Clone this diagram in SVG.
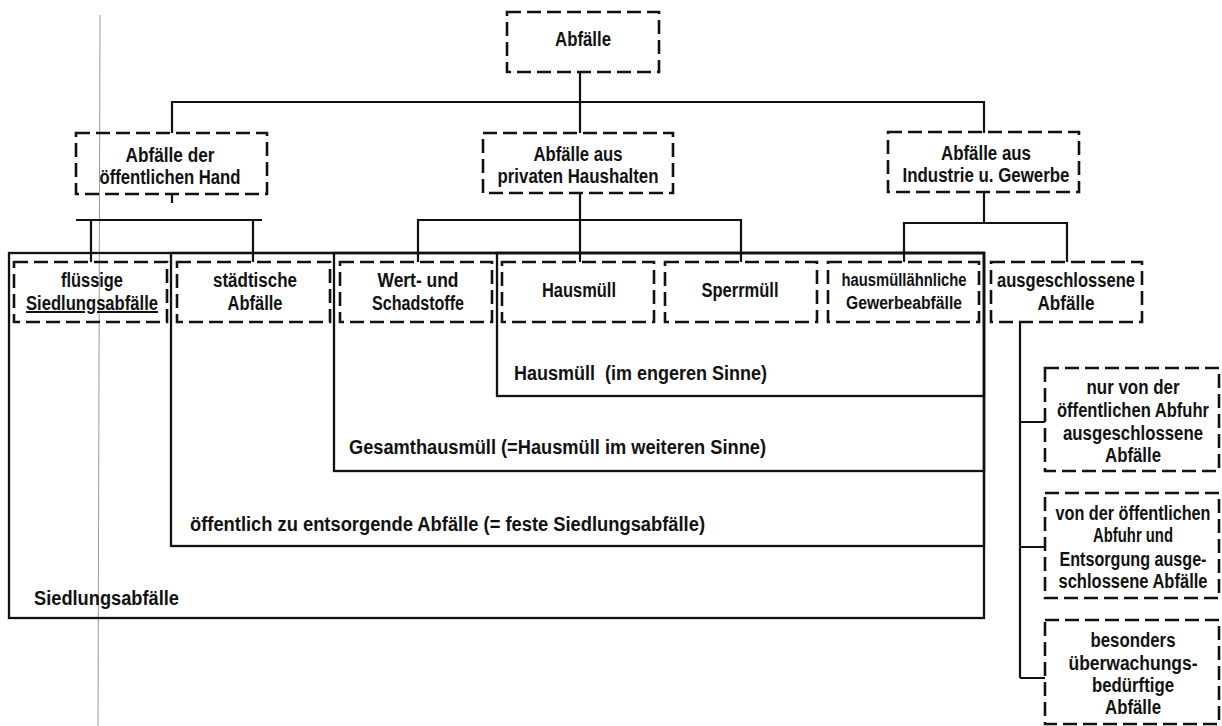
<svg xmlns="http://www.w3.org/2000/svg" width="1222" height="726" viewBox="0 0 1222 726">
<style>
.box{fill:none;stroke:#111;stroke-width:2.6;stroke-dasharray:14 6}
.ln{fill:none;stroke:#111;stroke-width:2.2}
.fr{fill:none;stroke:#111;stroke-width:2.3}
text{font-family:"Liberation Sans",Arial,sans-serif;font-weight:bold;font-size:20px;fill:#111}
.c{text-anchor:middle}
.s{font-size:18px}
</style>
<rect width="1222" height="726" fill="#fff"/>
<line x1="100" y1="15" x2="98" y2="726" stroke="#999" stroke-width="1"/>
<g id="frames">
<rect class="fr" x="9" y="253" width="975" height="365"/>
<rect class="fr" x="171" y="253" width="813" height="293"/>
<rect class="fr" x="334" y="253" width="650" height="218"/>
<rect class="fr" x="497" y="253" width="487" height="143"/>
<text x="514" y="380" textLength="253" lengthAdjust="spacingAndGlyphs" xml:space="preserve">Hausmüll  (im engeren Sinne)</text>
<text x="349" y="454" textLength="417" lengthAdjust="spacingAndGlyphs">Gesamthausmüll (=Hausmüll im weiteren Sinne)</text>
<text x="190" y="531" textLength="515" lengthAdjust="spacingAndGlyphs">öffentlich zu entsorgende Abfälle (= feste Siedlungsabfälle)</text>
<text x="34" y="605" textLength="145" lengthAdjust="spacingAndGlyphs">Siedlungsabfälle</text>
</g>
<g id="connectors">
<path class="ln" d="M580 72V102M172 133V102H984V133M580 102V133"/>
<path class="ln" d="M172 194V203M76 220H262M91 220V262M253 220V262"/>
<path class="ln" d="M580 193V262M418 262V220H741V262"/>
<path class="ln" d="M984 192V223M904 262V223H1067V262"/>
<path class="ln" d="M1020 322V678M1020 422H1045M1020 547H1045M1020 678H1045"/>
</g>
<g id="n-abfaelle"><rect class="box" x="507" y="12" width="152" height="60"/><text class="c" x="583" y="46" textLength="56" lengthAdjust="spacingAndGlyphs">Abfälle</text></g>
<g id="n-hand"><rect class="box" x="76" y="133" width="191" height="61"/><text class="c" x="170" y="162" textLength="89" lengthAdjust="spacingAndGlyphs">Abfälle der</text><text class="c" x="170" y="184" textLength="141" lengthAdjust="spacingAndGlyphs">öffentlichen Hand</text></g>
<g id="n-haushalte"><rect class="box" x="483" y="133" width="190" height="60"/><text class="c" x="578" y="161" textLength="89" lengthAdjust="spacingAndGlyphs">Abfälle aus</text><text class="c" x="578" y="183" textLength="161" lengthAdjust="spacingAndGlyphs">privaten Haushalten</text></g>
<g id="n-industrie"><rect class="box" x="888" y="132" width="191" height="60"/><text class="c" x="986" y="160" textLength="90" lengthAdjust="spacingAndGlyphs">Abfälle aus</text><text class="c" x="986" y="182" textLength="167" lengthAdjust="spacingAndGlyphs">Industrie u. Gewerbe</text></g>
<g id="n-fluessig"><rect class="box" x="14" y="262" width="153" height="60"/><text class="c" x="92" y="287" textLength="62" lengthAdjust="spacingAndGlyphs">flüssige</text><text class="c" x="92" y="310" textLength="132" lengthAdjust="spacingAndGlyphs" text-decoration="underline">Siedlungsabfälle</text></g>
<g id="n-staedtisch"><rect class="box" x="177" y="262" width="153" height="60"/><text class="c" x="255" y="287" textLength="84" lengthAdjust="spacingAndGlyphs">städtische</text><text class="c" x="255" y="310" textLength="55" lengthAdjust="spacingAndGlyphs">Abfälle</text></g>
<g id="n-wert"><rect class="box" x="340" y="262" width="152" height="60"/><text class="c" x="418" y="287" textLength="81" lengthAdjust="spacingAndGlyphs">Wert- und</text><text class="c" x="418" y="310" textLength="92" lengthAdjust="spacingAndGlyphs">Schadstoffe</text></g>
<g id="n-hausmuell"><rect class="box" x="502" y="262" width="152" height="60"/><text class="c" x="579" y="297" textLength="74" lengthAdjust="spacingAndGlyphs">Hausmüll</text></g>
<g id="n-sperr"><rect class="box" x="665" y="262" width="152" height="60"/><text class="c" x="740" y="297" textLength="77" lengthAdjust="spacingAndGlyphs">Sperrmüll</text></g>
<g id="n-gewerbe"><rect class="box" x="828" y="262" width="151" height="60"/><text class="c s" x="904" y="286" textLength="125" lengthAdjust="spacingAndGlyphs">hausmüllähnliche</text><text class="c s" x="904" y="309" textLength="116" lengthAdjust="spacingAndGlyphs">Gewerbeabfälle</text></g>
<g id="n-ausgeschl"><rect class="box" x="991" y="262" width="151" height="60"/><text class="c" x="1066" y="287" textLength="138" lengthAdjust="spacingAndGlyphs">ausgeschlossene</text><text class="c" x="1066" y="310" textLength="57" lengthAdjust="spacingAndGlyphs">Abfälle</text></g>
<g id="n-abfuhr"><rect class="box" x="1045" y="368" width="174" height="103"/><text class="c" x="1133" y="394" textLength="93" lengthAdjust="spacingAndGlyphs">nur von der</text><text class="c" x="1133" y="417" textLength="152" lengthAdjust="spacingAndGlyphs">öffentlichen Abfuhr</text><text class="c" x="1133" y="440" textLength="140" lengthAdjust="spacingAndGlyphs">ausgeschlossene</text><text class="c" x="1133" y="462" textLength="56" lengthAdjust="spacingAndGlyphs">Abfälle</text></g>
<g id="n-entsorgung"><rect class="box" x="1045" y="493" width="174" height="105"/><text class="c" x="1133" y="520" textLength="155" lengthAdjust="spacingAndGlyphs">von der öffentlichen</text><text class="c" x="1133" y="542" textLength="80" lengthAdjust="spacingAndGlyphs">Abfuhr und</text><text class="c" x="1133" y="566" textLength="147" lengthAdjust="spacingAndGlyphs">Entsorgung ausge-</text><text class="c" x="1133" y="588" textLength="149" lengthAdjust="spacingAndGlyphs">schlossene Abfälle</text></g>
<g id="n-besonders"><rect class="box" x="1045" y="620" width="174" height="104"/><text class="c" x="1133" y="647" textLength="85" lengthAdjust="spacingAndGlyphs">besonders</text><text class="c" x="1133" y="670" textLength="129" lengthAdjust="spacingAndGlyphs">überwachungs-</text><text class="c" x="1133" y="692" textLength="82" lengthAdjust="spacingAndGlyphs">bedürftige</text><text class="c" x="1133" y="714" textLength="56" lengthAdjust="spacingAndGlyphs">Abfälle</text></g>
</svg>
